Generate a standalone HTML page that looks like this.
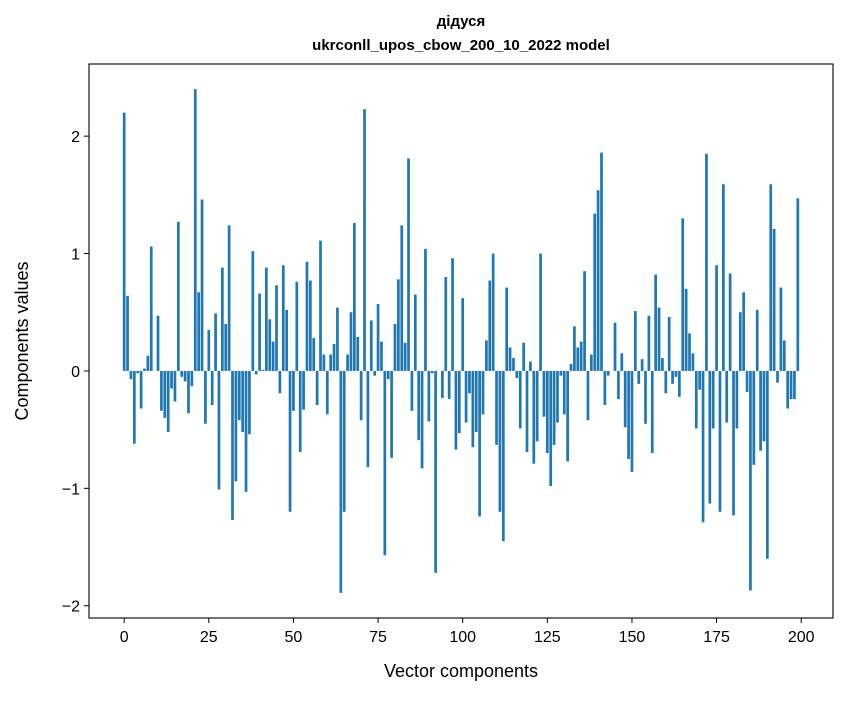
<!DOCTYPE html>
<html><head><meta charset="utf-8"><style>
body{margin:0;background:#fff;}
svg text{font-family:"Liberation Sans","DejaVu Sans",sans-serif;fill:#000;}
</style></head><body>
<svg id="chart" width="847" height="696" xmlns="http://www.w3.org/2000/svg">
<rect width="847" height="696" fill="#fff"/>
<text x="461" y="26" text-anchor="middle" font-size="15" font-weight="bold">дідуся</text>
<text x="461" y="50" text-anchor="middle" font-size="15" font-weight="bold">ukrconll_upos_cbow_200_10_2022 model</text>
<g id="bars"></g>
<g id="xticks"></g>
<g id="yticks"></g>
<rect x="89" y="64" width="744" height="554" fill="none" stroke="#000" stroke-width="1.1"/>
<text x="461" y="677" text-anchor="middle" font-size="18">Vector components</text>
<text transform="translate(28,341) rotate(-90)" text-anchor="middle" font-size="18">Components values</text>
</svg>
<script>
const values = [2.20,0.64,-0.07,-0.62,-0.02,-0.32,0.02,0.13,1.06,0,
0.47,-0.34,-0.40,-0.52,-0.15,-0.26,1.27,-0.05,-0.09,-0.36,
-0.13,2.40,0.67,1.46,-0.45,0.35,-0.29,0.49,-1.01,0.88,
0.40,1.24,-1.27,-0.94,-0.42,-0.52,-1.03,-0.54,1.02,-0.03,
0.66,0.01,0.88,0.44,0.25,0.73,-0.19,0.90,0.52,-1.20,
-0.34,0.76,-0.69,-0.33,0.93,0.77,0.28,-0.29,1.11,0.14,
-0.37,0.14,0.23,0.54,-1.89,-1.20,0.14,0.50,1.26,0.29,
-0.42,2.23,-0.82,0.43,-0.04,0.57,0.25,-1.57,-0.07,-0.74,
0.40,0.78,1.24,0.24,1.81,-0.34,0.65,-0.59,-0.83,1.04,
-0.43,-0.02,-1.72,0,-0.23,0.80,-0.24,0.96,-0.67,-0.53,
0.62,-0.44,-0.19,-0.65,-0.52,-1.24,-0.37,0.26,0.77,1.00,
-0.63,-1.20,-1.45,0.71,0.20,0.11,-0.06,-0.49,0.24,-0.69,
0.08,-0.79,-0.60,1.00,-0.39,-0.70,-0.98,-0.63,-0.44,-0.04,
-0.37,-0.77,0.06,0.38,0.20,0.25,0.85,-0.42,0.14,1.34,
1.54,1.86,-0.29,-0.04,0,0.41,-0.24,0.15,-0.48,-0.75,
-0.86,0.51,-0.11,0.10,-0.45,0.47,-0.70,0.82,0.54,0.11,
-0.19,0.46,-0.11,-0.05,-0.22,1.30,0.70,0.32,0.15,-0.49,
-0.16,-1.29,1.85,-1.13,-0.49,0.90,-1.20,1.59,-0.44,0.83,
-1.23,-0.49,0.50,0.67,-0.18,-1.87,-0.80,0.52,-0.68,-0.60,
-1.60,1.59,1.21,-0.10,0.71,0.26,-0.32,-0.24,-0.24,1.47];
const xTickLabels = [0,25,50,75,100,125,150,175,200];
const yTickLabels = [-2,-1,0,1,2];

const NS="http://www.w3.org/2000/svg";
const L=89,R=833,T=64,B=618;
const n=values.length;
const xmin=-0.4-0.05*(n-0.2), xmax=(n-1)+0.4+0.05*(n-0.2);
let dmin=Math.min(0,...values), dmax=Math.max(0,...values);
const pad=(dmax-dmin)*0.05;
const ymin=dmin-pad, ymax=dmax+pad;
const xs=v=>L+(v-xmin)/(xmax-xmin)*(R-L);
const ys=v=>B-(v-ymin)/(ymax-ymin)*(B-T);

const bars=document.getElementById('bars');
values.forEach((v,i)=>{
  const r=document.createElementNS(NS,'rect');
  const x0=xs(i-0.4), x1=xs(i+0.4);
  const y0=ys(Math.max(v,0)), y1=ys(Math.min(v,0));
  r.setAttribute('x',x0);r.setAttribute('width',x1-x0);
  r.setAttribute('y',y0);r.setAttribute('height',Math.max(y1-y0,0));
  r.setAttribute('fill','#1f77b4');
  
  
  bars.appendChild(r);
});
const xg=document.getElementById('xticks');
xTickLabels.forEach(t=>{
  const x=xs(t);
  const l=document.createElementNS(NS,'line');
  l.setAttribute('x1',x);l.setAttribute('x2',x);l.setAttribute('y1',B);l.setAttribute('y2',B+5);
  l.setAttribute('stroke','#000');
  
  
  xg.appendChild(l);
  const tx=document.createElementNS(NS,'text');
  tx.setAttribute('x',x);tx.setAttribute('y',B+24);tx.setAttribute('text-anchor','middle');tx.setAttribute('font-size','16');
  tx.textContent=String(t);
  
  
  xg.appendChild(tx);
});
const yg=document.getElementById('yticks');
yTickLabels.forEach(t=>{
  const y=ys(t);
  const l=document.createElementNS(NS,'line');
  l.setAttribute('x1',L-5);l.setAttribute('x2',L);l.setAttribute('y1',y);l.setAttribute('y2',y);
  l.setAttribute('stroke','#000');
  
  
  yg.appendChild(l);
  const tx=document.createElementNS(NS,'text');
  tx.setAttribute('x',L-9);tx.setAttribute('y',y+6);tx.setAttribute('text-anchor','end');tx.setAttribute('font-size','16');
  tx.textContent=t<0?'\u2212'+Math.abs(t):String(t);
  
  
  yg.appendChild(tx);
});
</script>
</body></html>
